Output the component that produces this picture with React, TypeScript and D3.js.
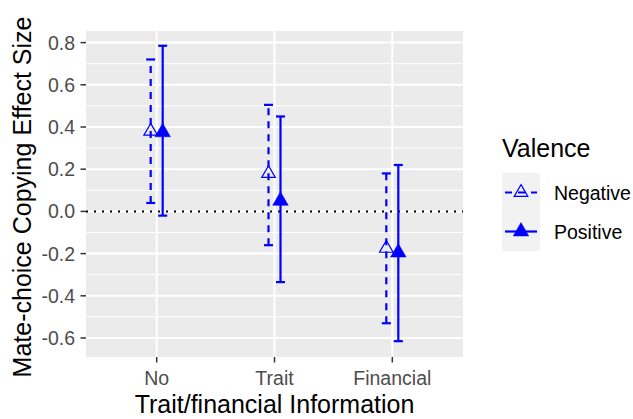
import React from "react";
import * as d3 from "d3";

// data
const categories = ["No", "Trait", "Financial"];
const valences = ["Negative", "Positive"];
const negEstimate = [0.38, 0.18, -0.175];
const negLower = [0.04, -0.16, -0.53];
const negUpper = [0.72, 0.505, 0.18];
const posEstimate = [0.375, 0.05, -0.195];
const posLower = [-0.02, -0.335, -0.615];
const posUpper = [0.785, 0.45, 0.22];
const yTicks = [-0.6, -0.4, -0.2, 0.0, 0.2, 0.4, 0.6, 0.8];
const yMinor = [-0.5, -0.3, -0.1, 0.1, 0.3, 0.5, 0.7];

const width = 633;
const height = 419;
const panel = { left: 86, right: 463, top: 31, bottom: 357 };
const blue = "#0000FF";
const font = "'Liberation Sans', Arial, sans-serif";

const App = () => {
  const x = d3.scalePoint<string>()
    .domain(categories)
    .range([panel.left, panel.right])
    .padding(0.6);

  const y = d3.scaleLinear()
    .domain([-0.69, 0.855])
    .range([panel.bottom, panel.top]);

  const dodge = 6;
  const capHalf = 4.5;

  const series = [
    { name: valences[0], est: negEstimate, lo: negLower, hi: negUpper, off: -dodge, dash: "7,6", filled: false },
    { name: valences[1], est: posEstimate, lo: posLower, hi: posUpper, off: dodge, dash: null, filled: true },
  ];

  const triOpen = d3.symbol().type(d3.symbolTriangle).size(80)();
  const triFilled = d3.symbol().type(d3.symbolTriangle).size(105)();

  return (
    <svg width={width} height={height} style={{ position: "absolute", left: 0, top: 0, background: "#fff" }} fontFamily={font}>
      {/* panel */}
      <rect x={panel.left} y={panel.top} width={panel.right - panel.left} height={panel.bottom - panel.top} fill="#EBEBEB" />
      {yMinor.map((t) => (
        <line key={"mn" + t} x1={panel.left} x2={panel.right} y1={y(t)} y2={y(t)} stroke="#fff" strokeWidth={1} />
      ))}
      {yTicks.map((t) => (
        <line key={"mj" + t} x1={panel.left} x2={panel.right} y1={y(t)} y2={y(t)} stroke="#fff" strokeWidth={2} />
      ))}
      {categories.map((c) => (
        <line key={"vx" + c} x1={x(c)} x2={x(c)} y1={panel.top} y2={panel.bottom} stroke="#fff" strokeWidth={2} />
      ))}

      {/* zero reference */}
      <line x1={panel.left} x2={panel.right} y1={y(0)} y2={y(0)} stroke="#000" strokeWidth={2} strokeDasharray="2,6" />

      {/* error bars and points */}
      {series.map((s) => (
        <g key={s.name}>
          {categories.map((c, i) => {
            const cx = (x(c) as number) + s.off;
            return (
              <g key={c}>
                <line x1={cx} x2={cx} y1={y(s.lo[i])} y2={y(s.hi[i])} stroke={blue} strokeWidth={2.2}
                  strokeDasharray={s.dash ?? undefined} />
                <line x1={cx - capHalf} x2={cx + capHalf} y1={y(s.hi[i])} y2={y(s.hi[i])} stroke={blue} strokeWidth={2.2} />
                <line x1={cx - capHalf} x2={cx + capHalf} y1={y(s.lo[i])} y2={y(s.lo[i])} stroke={blue} strokeWidth={2.2} />
                <path d={s.filled ? triFilled! : triOpen!} transform={`translate(${cx},${y(s.est[i])})`}
                  fill={s.filled ? blue : "none"} stroke={blue} strokeWidth={s.filled ? 0.5 : 1.2} />
              </g>
            );
          })}
        </g>
      ))}

      {/* y axis */}
      {yTicks.map((t) => (
        <g key={"yt" + t}>
          <line x1={panel.left - 5.5} x2={panel.left} y1={y(t)} y2={y(t)} stroke="#333" strokeWidth={1.5} />
          <text x={panel.left - 11} y={y(t)} dy="0.36em" textAnchor="end" fontSize={19.5} fill="#4D4D4D">
            {d3.format(".1f")(t).replace("−", "-")}
          </text>
        </g>
      ))}
      {/* x axis */}
      {categories.map((c) => (
        <g key={"xt" + c}>
          <line x1={x(c)} x2={x(c)} y1={panel.bottom} y2={panel.bottom + 5.5} stroke="#333" strokeWidth={1.5} />
          <text x={x(c)} y={385} textAnchor="middle" fontSize={19.5} fill="#4D4D4D">{c}</text>
        </g>
      ))}

      <text x={(panel.left + panel.right) / 2} y={413} textAnchor="middle" fontSize={25} fill="#000">
        Trait/financial Information
      </text>
      <text transform={`translate(31,${(panel.top + panel.bottom) / 2 + 3}) rotate(-90)`} textAnchor="middle" fontSize={25} fill="#000">
        Mate-choice Copying Effect Size
      </text>

      {/* legend */}
      <text x={502} y={157} fontSize={25} fill="#000">Valence</text>
      {series.map((s, i) => {
        const ky = 173 + i * 39;
        const cy = ky + 19.5;
        return (
          <g key={"lg" + s.name}>
            <rect x={502} y={ky} width={38} height={39} fill="#F2F2F2" />
            <line x1={505} x2={537} y1={cy} y2={cy} stroke={blue} strokeWidth={2.2} strokeDasharray={s.dash ?? undefined} />
            <path d={s.filled ? triFilled! : triOpen!} transform={`translate(521,${cy})`}
              fill={s.filled ? blue : "none"} stroke={blue} strokeWidth={s.filled ? 0.5 : 1.2} />
            <text x={554} y={cy} dy="0.36em" fontSize={19.5} fill="#000">{s.name}</text>
          </g>
        );
      })}
    </svg>
  );
};

export default App;
